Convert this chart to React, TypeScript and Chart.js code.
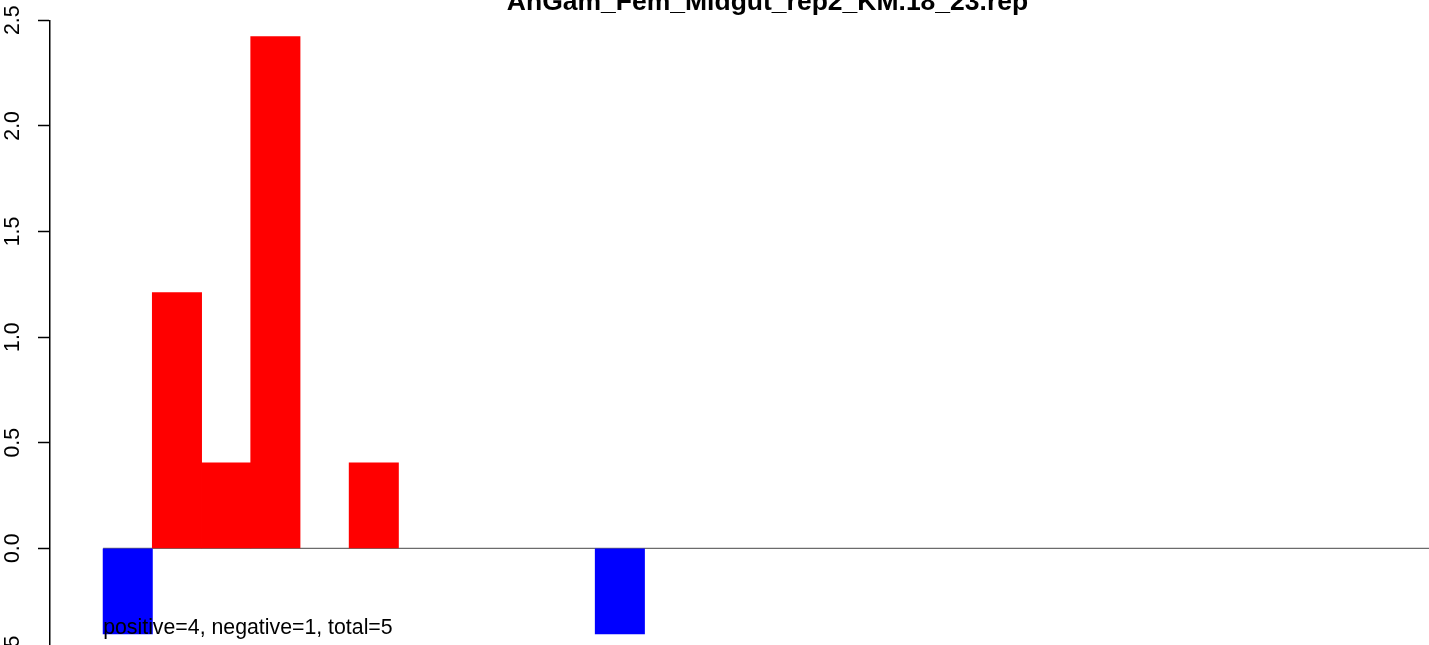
import React, { useEffect, useRef } from "react";
import { Chart, registerables } from "chart.js";

Chart.register(...registerables);

// ---- data ----
const TITLE = "AnGam_Fem_Midgut_rep2_KM.18_23.rep";
const SUMMARY = "positive=4, negative=1, total=5";
const BAR_VALUES = [
  -0.405, 1.21, 0.404, 2.422, 0, 0.404, 0, 0, 0, 0, -0.405,
  0, 0, 0, 0, 0, 0, 0, 0, 0, 0, 0, 0, 0, 0, 0, 0,
];
const Y_MIN = -0.5;
const Y_MAX = 2.5;
const Y_STEP = 0.5;
const POS_COLOR = "#FF0000";
const NEG_COLOR = "#0000FF";
const ZERO_LINE_COLOR = "#6b6b6b";

const FONT = '"Liberation Sans", Arial, Helvetica, sans-serif';

const CANVAS_W = 1500;
const CANVAS_H = 744;
const CANVAS_TOP = -60;

const summaryPlugin = {
  id: "summaryText",
  afterDatasetsDraw(chart: any) {
    const { ctx, scales } = chart;
    const x = scales.x;
    const y = scales.y;
    const minVal = Math.min(...BAR_VALUES);
    ctx.save();
    ctx.font = `21.3px ${FONT}`;
    ctx.fillStyle = "#000";
    ctx.textAlign = "left";
    ctx.textBaseline = "alphabetic";
    ctx.fillText(SUMMARY, x.getPixelForValue(0), y.getPixelForValue(minVal));
    ctx.restore();
  },
};

export default function App() {
  const ref = useRef<HTMLCanvasElement | null>(null);

  useEffect(() => {
    if (!ref.current) return;
    const n = BAR_VALUES.length;
    const chart = new Chart(ref.current, {
      type: "bar",
      data: {
        datasets: [
          {
            type: "bar",
            data: BAR_VALUES.map((v, i) => ({ x: i + 0.5, y: v })),
            backgroundColor: BAR_VALUES.map((v) => (v < 0 ? NEG_COLOR : POS_COLOR)),
            borderWidth: 0,
            inflateAmount: (c: any) =>
              c && c.raw && c.raw.y !== 0 ? 0.4 : 0,
            barPercentage: 1,
            categoryPercentage: 1,
            order: 1,
          } as any,
          {
            type: "line",
            data: [
              { x: 0, y: 0 },
              { x: n, y: 0 },
            ],
            borderColor: ZERO_LINE_COLOR,
            borderWidth: 1.3,
            pointRadius: 0,
            order: 2,
          } as any,
        ],
      },
      options: {
        animation: false,
        responsive: false,
        devicePixelRatio: 1,
        layout: { padding: { top: 0, left: 0, right: 15, bottom: 30.1 } },
        plugins: {
          legend: { display: false },
          tooltip: { enabled: false },
          title: {
            display: true,
            fullSize: false,
            text: TITLE,
            color: "#000",
            font: { family: FONT, size: 26.5, weight: "bold", lineHeight: 1.2 },
            padding: { top: 46.4, bottom: 2.1 },
          },
        },
        scales: {
          x: {
            type: "linear",
            display: false,
            offset: false,
            grid: { offset: false },
            min: -0.04 * n,
            max: n * 1.04,
          },
          y: {
            type: "linear",
            min: Y_MIN,
            max: Y_MAX,
            afterFit: (scale: any) => {
              scale.width = 50;
            },
            ticks: {
              stepSize: Y_STEP,
              minRotation: 90,
              maxRotation: 90,
              crossAlign: "center",
              padding: 7,
              color: "#000",
              font: { family: FONT, size: 21.3 },
              callback: (v: any) => Number(v).toFixed(1),
            },
            grid: {
              display: true,
              drawOnChartArea: false,
              drawTicks: true,
              tickLength: 12,
              tickColor: "#000",
              tickWidth: 1.5,
            },
            border: { display: true, color: "#000", width: 1.5 },
          },
        },
      } as any,
      plugins: [summaryPlugin],
    });
    return () => chart.destroy();
  }, []);

  return (
    <div
      style={{
        position: "fixed",
        left: 0,
        top: 0,
        width: 1429,
        height: 645,
        overflow: "hidden",
        background: "#fff",
      }}
    >
      <canvas
        ref={ref}
        width={CANVAS_W}
        height={CANVAS_H}
        style={{
          position: "absolute",
          left: 0,
          top: CANVAS_TOP,
          width: CANVAS_W,
          height: CANVAS_H,
        }}
      />
    </div>
  );
}
